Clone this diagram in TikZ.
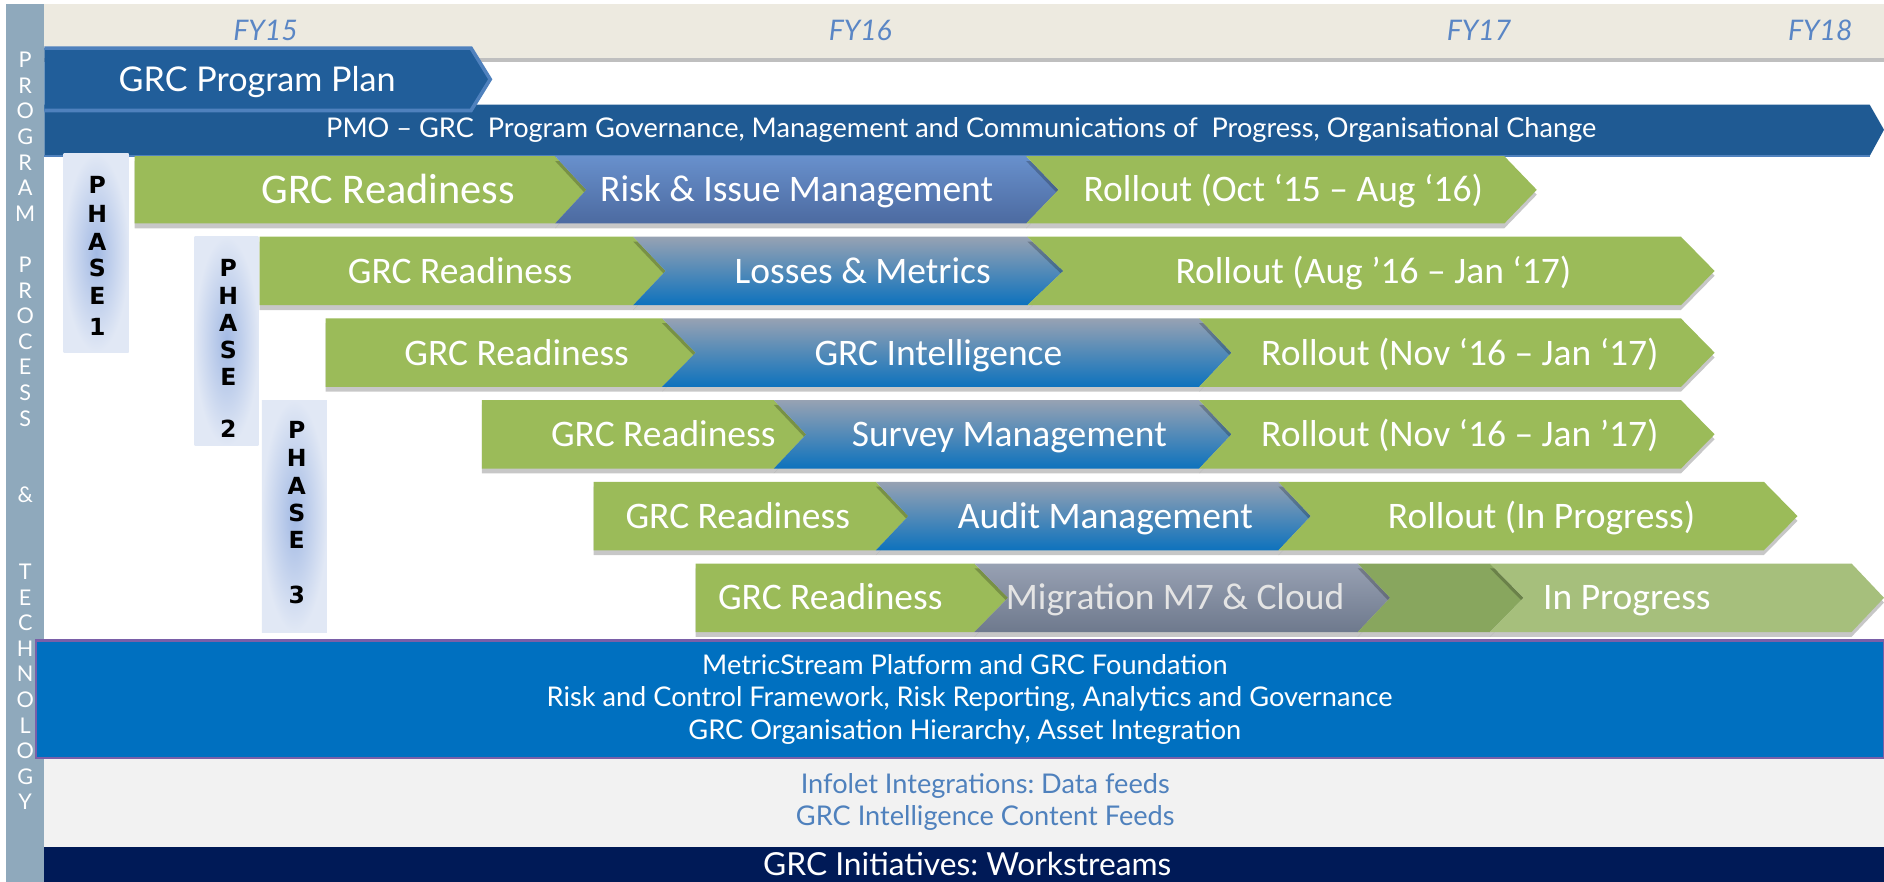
\documentclass[tikz,border=0pt]{standalone}
\usepackage{fontspec}
\setmainfont{Carlito}
\newfontfamily\lato{Lato}
\newfontfamily\dejab{DejaVu Sans}
\usetikzlibrary{shadows}
\frenchspacing
\definecolor{leftbar}{HTML}{8FA9BC}
\definecolor{band}{HTML}{EDEAE0}
\definecolor{fyblue}{HTML}{5A86C5}
\definecolor{planblue}{HTML}{215E9A}
\definecolor{planedge}{HTML}{4F81BD}
\definecolor{pmoblue}{HTML}{1F5A93}
\definecolor{grn}{HTML}{9BBB59}
\definecolor{grndark}{HTML}{88A65E}
\definecolor{grnlight}{HTML}{A6BF7C}
\definecolor{bgtop}{HTML}{97A2B3}
\definecolor{bgbot}{HTML}{0D72BD}
\definecolor{rtop}{HTML}{6890CC}
\definecolor{rbot}{HTML}{4C6AA0}
\definecolor{gtop}{HTML}{98A1B3}
\definecolor{gbot}{HTML}{6E798D}
\definecolor{phin}{HTML}{A3BAE4}
\definecolor{phout}{HTML}{E1E8F5}
\definecolor{msblue}{HTML}{0070C0}
\definecolor{msedge}{HTML}{7A5FA8}
\definecolor{feedbg}{HTML}{F2F2F2}
\definecolor{feedtxt}{HTML}{4F81BD}
\definecolor{navy}{HTML}{001A57}
\definecolor{migtxt}{HTML}{E4E4E4}
% #1 style, #2 left x, #3 base right x, #4 top y, #5 bottom y, #6 notch depth, #7 tip depth
\newcommand{\chev}[7]{\path[#1] (#2,#4) -- (#3,#4) -- ({#3+#7},{(#4+#5)/2}) -- (#3,#5) -- (#2,#5) -- ({#2+#6},{(#4+#5)/2}) -- cycle;}
\begin{document}
\begin{tikzpicture}[x=0.5pt,y=-0.5pt,
  seg/.style={drop shadow={shadow xshift=0pt,shadow yshift=-2pt,opacity=0.22,fill=black}},
  green/.style={seg,fill=grn},
  blueg/.style={seg,top color=bgtop,bottom color=bgbot},
  riskb/.style={seg,top color=rtop,bottom color=rbot},
  grayg/.style={seg,top color=gtop,bottom color=gbot},
  dgreen/.style={seg,fill=grndark},
  lgreen/.style={seg,fill=grnlight},
  phbox/.style={inner color=phin,outer color=phout},
  rt/.style={text=white,inner sep=0pt,anchor=base,yshift=-5pt,font=\fontsize{15.6}{18}\selectfont},
  rtbig/.style={text=white,inner sep=0pt,anchor=base,yshift=-5.7pt,font=\fontsize{17.6}{20}\selectfont},
  vl/.style={text=white,inner sep=0pt,anchor=base,yshift=-3.2pt,font=\lato\fontsize{9}{10}\selectfont},
  ph/.style={text=black,inner sep=0pt,anchor=base,yshift=-3.6pt,font=\dejab\bfseries\fontsize{9.8}{10}\selectfont},
  fy/.style={text=fyblue,inner sep=0pt,anchor=base,yshift=-4.2pt,font=\lato\itshape\fontsize{11.8}{13}\selectfont},
  lt/.style={inner sep=0pt,anchor=base,font=\lato\fontsize{11.3}{13}\selectfont}
]
\useasboundingbox (0,0) rectangle (1568,734);
\fill[white] (0,0) rectangle (1568,734);

% left vertical bar
\fill[leftbar] (5,3) rectangle (37,734);
\foreach \c/\i in {P/0,R/1,O/2,G/3,R/4,A/5,M/6,P/8,R/9,O/10,C/11,E/12,S/13,S/14,\&/17,T/20,E/21,C/22,H/23,N/24,O/25,L/26,O/27,G/28,Y/29}
  \node[vl] (v\i) at (21,{50+\i*21.3}) {\c};

% top band with fiscal years
\fill[band,drop shadow={shadow xshift=0pt,shadow yshift=-2pt,opacity=0.25,fill=black}] (37,3) rectangle (1568,48);
\node[fy] (fy15) at (221,25) {FY15};
\node[fy] (fy16) at (716,25) {FY16};
\node[fy] (fy17) at (1231,25) {FY17};
\node[fy] (fy18) at (1515,25) {FY18};

% PMO bar
\path[fill=pmoblue] (37,87) -- (1556,87) -- (1568,108) -- (1556,130) -- (37,130) -- cycle;
\draw[planedge,line width=0.6pt] (37,130) -- (1556,130);
\node[lt,text=white,yshift=-4.1pt] (pmo) at (800,106) {PMO – GRC\ \ Program Governance, Management and Communications of\ \ Progress, Organisational Change};

% program plan arrow
\fill[planblue] (37,40) -- (392,40) -- (408,66) -- (392,92) -- (37,92) -- cycle;
\draw[planedge,line width=1.5pt,line join=miter] (37,40) -- (392,40) -- (408,66) -- (392,92) -- (37,92);
\node[inner sep=0pt,anchor=base,text=white,yshift=-5.1pt,font=\lato\fontsize{14.2}{17}\selectfont] (plan) at (214,66) {GRC Program Plan};

% phase boxes
\fill[phbox] (53,128) rectangle (107,293);
\fill[phbox] (162,197) rectangle (215,371);
\fill[phbox] (218,333) rectangle (272,526);
\foreach \c/\y [count=\k] in {P/154,H/178,A/201,S/223,E/246,1/272}
  \node[ph] (pa\k) at (81,\y) {\c};
\foreach \c/\y [count=\k] in {P/223,H/246,A/269,S/291,E/314,2/357}
  \node[ph] (pb\k) at (190,\y) {\c};
\foreach \c/\y [count=\k] in {P/358,H/381,A/404,S/427,E/449,3/495}
  \node[ph] (pc\k) at (247,\y) {\c};

% row 1
\chev{green}{112}{462}{130}{186}{0}{26}
\chev{riskb}{462}{854}{130}{186}{26}{27}
\chev{green}{854}{1252}{130}{186}{27}{27}
\node[rtbig] (r1a) at (323,158) {GRC Readiness};
\node[rt] (r1b) at (663,158) {Risk \& Issue Management};
\node[rt] (r1c) at (1068,158) {Rollout (Oct ‘15 – Aug ‘16)};

% row 2
\chev{green}{216}{527}{197}{254}{0}{27}
\chev{blueg}{527}{855}{197}{254}{27}{30}
\chev{green}{855}{1399}{197}{254}{30}{28}
\node[rt] (r2a) at (383,226) {GRC Readiness};
\node[rt] (r2b) at (718,226) {Losses \& Metrics};
\node[rt] (r2c) at (1143,226) {Rollout (Aug ’16 – Jan ‘17)};

% row 3
\chev{green}{271}{551}{265}{322}{0}{28}
\chev{blueg}{551}{998}{265}{322}{28}{27}
\chev{green}{998}{1399}{265}{322}{27}{28}
\node[rt] (r3a) at (430,294) {GRC Readiness};
\node[rt] (r3b) at (781,294) {GRC Intelligence};
\node[rt] (r3c) at (1215,294) {Rollout (Nov ‘16 – Jan ‘17)};

% row 4
\chev{green}{401}{644}{333}{390}{0}{27}
\chev{blueg}{644}{998}{333}{390}{27}{27}
\chev{green}{998}{1399}{333}{390}{27}{28}
\node[rt] (r4a) at (552,362) {GRC Readiness};
\node[rt] (r4b) at (840,362) {Survey Management};
\node[rt] (r4c) at (1215,362) {Rollout (Nov ‘16 – Jan ’17)};

% row 5
\chev{green}{494}{729}{401}{458}{0}{27}
\chev{blueg}{729}{1064}{401}{458}{27}{27}
\chev{green}{1064}{1468}{401}{458}{27}{28}
\node[rt] (r5a) at (614,430) {GRC Readiness};
\node[rt] (r5b) at (920,430) {Audit Management};
\node[rt] (r5c) at (1283,430) {Rollout (In Progress)};

% row 6
\chev{green}{579}{811}{469}{526}{0}{28}
\chev{grayg}{811}{1130}{469}{526}{28}{27}
\chev{dgreen}{1130}{1240}{469}{526}{27}{28}
\chev{lgreen}{1240}{1541}{469}{526}{28}{27}
\node[rt] (r6a) at (691,497) {GRC Readiness};
\node[rt,text=migtxt] (r6b) at (978,497) {Migration M7 \& Cloud};
\node[rt] (r6c) at (1354,497) {In Progress};

% platform box
\path[fill=msblue,draw=msedge,line width=1pt] (30,533) rectangle (1568,631);
\node[lt,text=white,yshift=-4.1pt] (ms1) at (803,553) {MetricStream Platform and GRC Foundation};
\node[lt,text=white,yshift=-4.1pt] (ms2) at (807,580) {Risk and Control Framework, Risk Reporting, Analytics and Governance};
\node[lt,text=white,yshift=-4.1pt] (ms3) at (803,607) {GRC Organisation Hierarchy, Asset Integration};

% feeds box
\fill[feedbg] (37,632) rectangle (1568,705);
\node[lt,text=feedtxt,yshift=-4.1pt] (fd1) at (820,652) {Infolet Integrations: Data feeds};
\node[lt,text=feedtxt,yshift=-4.1pt] (fd2) at (820,679) {GRC Intelligence Content Feeds};

% initiatives bar
\fill[navy] (37,705) rectangle (1568,734);
\node[inner sep=0pt,anchor=base,text=white,yshift=-4.7pt,font=\lato\fontsize{13.2}{15}\selectfont] (init) at (805,719) {GRC Initiatives: Workstreams};
\end{tikzpicture}
\end{document}
